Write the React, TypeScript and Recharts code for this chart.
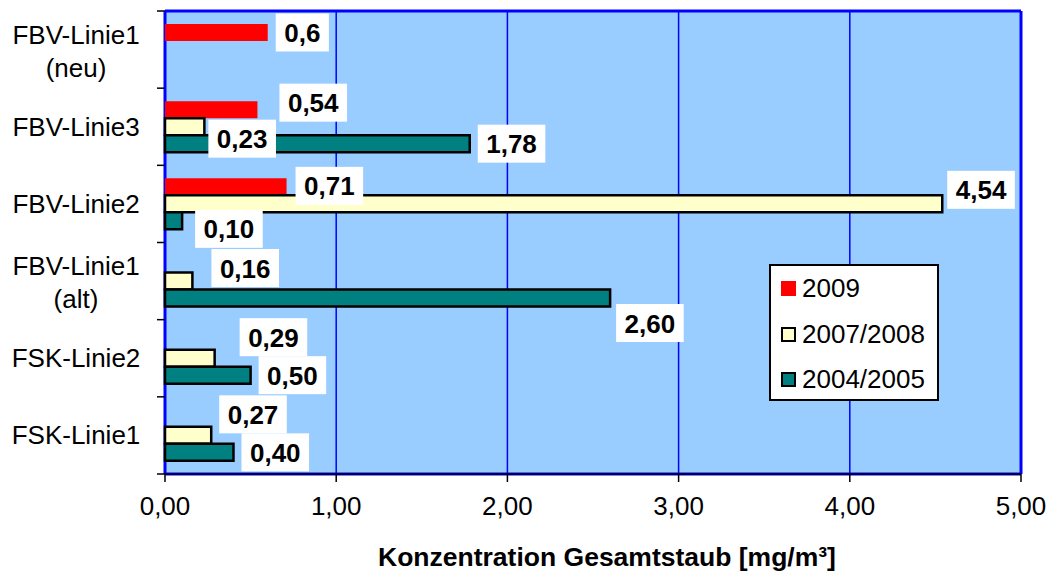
import { Bar, BarChart, CartesianGrid, LabelList, Legend, XAxis, YAxis } from 'recharts'

const FONT = '"Liberation Sans", Arial, sans-serif'

// categories top to bottom
const categories = [
  'FBV-Linie1\n(neu)',
  'FBV-Linie3',
  'FBV-Linie2',
  'FBV-Linie1\n(alt)',
  'FSK-Linie2',
  'FSK-Linie1',
]
const values2009 = [0.6, 0.54, 0.71, null, null, null]
const values0708 = [null, 0.23, 4.54, 0.16, 0.29, 0.27]
const values0405 = [null, 1.78, 0.1, 2.6, 0.5, 0.4]
const xTicks = [0, 1, 2, 3, 4, 5]

// label box nudges (dx from bar end, dy from bar centre), per category
const nudge2009 = [[8, 0], [22, -7], [9, -1], [0, 0], [0, 0], [0, 0]]
const nudge0708 = [[0, 0], [4, 12], [5, -14], [19, -13], [25, -21], [8, -21]]
const nudge0405 = [[0, 0], [8, 0], [13, 8], [6, 25], [8, 0], [8, 0]]

const data = categories.map((name, i) => ({
  name,
  s2009: values2009[i],
  s0708: values0708[i],
  s0405: values0405[i],
}))

const PLOT_TOP = 11
const PLOT_H = 463
const BAND = PLOT_H / categories.length

const comma = (v: number, digits?: number) =>
  (digits == null ? String(v) : v.toFixed(digits)).replace('.', ',')

const textWidth = (s: string, fs: number) =>
  s.split('').reduce((w, c) => w + (c === ',' ? 0.278 : 0.556), 0) * fs

const makeLabel = (nudges: number[][], digits?: number) => (props: any) => {
  const { value } = props
  if (value == null || value === 0) return null
  const vb = props.viewBox || {}
  const x = props.x ?? vb.x
  const y = props.y ?? vb.y
  const w = props.width ?? vb.width
  const h = props.height ?? vb.height
  const cy = y + h / 2
  const idx = Math.max(0, Math.min(categories.length - 1, Math.floor((cy - PLOT_TOP) / BAND)))
  const [dx, dy] = nudges[idx]
  const txt = comma(Number(value), digits)
  const fs = 26
  const bw = textWidth(txt, fs) + 17
  const bx = x + w + dx
  const by = cy + dy - 19
  return (
    <g>
      <rect x={bx} y={by} width={bw} height={38} fill="#fff" />
      <text
        x={bx + bw / 2}
        y={cy + dy + 9.5}
        textAnchor="middle"
        fontFamily={FONT}
        fontSize={fs}
        fontWeight="bold"
        fill="#000"
      >
        {txt}
      </text>
    </g>
  )
}

const CategoryTick = (props: any) => {
  const { y, payload, index } = props
  const lines = String(payload.value).split('\n')
  const last = index === categories.length - 1
  return (
    <g>
      <line x1={157} x2={165} y1={y - BAND / 2} y2={y - BAND / 2} stroke="#000" strokeWidth={1.5} />
      {last && <line x1={157} x2={165} y1={y + BAND / 2} y2={y + BAND / 2} stroke="#000" strokeWidth={1.5} />}
      <text textAnchor="middle" fontFamily={FONT} fontSize={26} fill="#000">
        {lines.length === 1 ? (
          <tspan x={76} y={y + 9}>{lines[0]}</tspan>
        ) : (
          lines.map((l, i) => (
            <tspan key={i} x={76} y={y - 6 + i * 33}>
              {l}
            </tspan>
          ))
        )}
      </text>
    </g>
  )
}

const legendItems = [
  { name: '2009', color: '#FF0000', border: false },
  { name: '2007/2008', color: '#FFFFCC', border: true },
  { name: '2004/2005', color: '#008080', border: true },
]

const LegendBox = () => (
  <div
    style={{
      width: 170,
      height: 137,
      boxSizing: 'border-box',
      border: '2px solid #000',
      background: '#fff',
      fontFamily: FONT,
      fontSize: 26,
      color: '#000',
    }}
  >
    {legendItems.map((it) => (
      <div key={it.name} style={{ display: 'flex', alignItems: 'center', height: 45.5, paddingLeft: 10 }}>
        <span
          style={{
            display: 'inline-block',
            width: 15,
            height: 15,
            boxSizing: 'border-box',
            background: it.color,
            border: it.border ? '2.5px solid #000' : 'none',
            marginRight: 6,
          }}
        />
        <span>{it.name}</span>
      </div>
    ))}
  </div>
)

export default function App() {
  return (
    <div style={{ position: 'absolute', left: 0, top: 0, width: 1050, height: 573, background: '#fff' }}>
      <BarChart
        width={1050}
        height={573}
        data={data}
        layout="vertical"
        margin={{ top: PLOT_TOP, right: 29, left: 0, bottom: 0 }}
        barGap={0}
        barSize={17}
      >
        <CartesianGrid horizontal={false} fill="#99CCFF" stroke="#0000FF" strokeWidth={1.5} />
        <CartesianGrid
          stroke="#0000FF"
          strokeWidth={3}
          verticalCoordinatesGenerator={({ offset }: any) => [offset.left, offset.left + offset.width]}
          horizontalCoordinatesGenerator={({ offset }: any) => [offset.top, offset.top + offset.height]}
        />
        <XAxis
          type="number"
          domain={[0, 5]}
          ticks={xTicks}
          interval={0}
          height={99}
          tickSize={8}
          tickMargin={15}
          tickFormatter={(v: number) => comma(v, 2)}
          tick={{ fill: '#000', fontSize: 26, fontFamily: FONT }}
          tickLine={{ stroke: '#000', strokeWidth: 1.5 }}
          axisLine={{ stroke: '#000', strokeWidth: 1.5 }}
          label={{
            value: 'Konzentration Gesamtstaub [mg/m³]',
            position: 'insideBottom',
            offset: 7,
            dx: 14,
            fill: '#000',
            fontSize: 26.5,
            fontWeight: 'bold',
            fontFamily: FONT,
          }}
        />
        <YAxis
          type="category"
          dataKey="name"
          width={165}
          interval={0}
          axisLine={false}
          tickLine={false}
          tick={CategoryTick}
        />
        <Legend
          layout="vertical"
          align="center"
          verticalAlign="middle"
          content={LegendBox}
          wrapperStyle={{ position: 'absolute', left: 769, top: 264, width: 170, height: 137 }}
        />
        <Bar dataKey="s2009" name="2009" fill="#FF0000" isAnimationActive={false}>
          <LabelList dataKey="s2009" content={makeLabel(nudge2009)} />
        </Bar>
        <Bar dataKey="s0708" name="2007/2008" fill="#FFFFCC" stroke="#000" strokeWidth={2.5} isAnimationActive={false}>
          <LabelList dataKey="s0708" content={makeLabel(nudge0708, 2)} />
        </Bar>
        <Bar dataKey="s0405" name="2004/2005" fill="#008080" stroke="#000" strokeWidth={2.5} isAnimationActive={false}>
          <LabelList dataKey="s0405" content={makeLabel(nudge0405, 2)} />
        </Bar>
      </BarChart>
    </div>
  )
}
